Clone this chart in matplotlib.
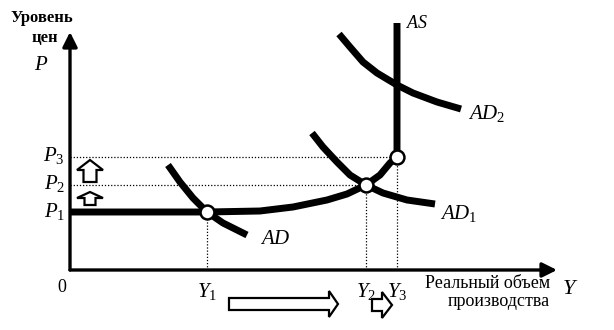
"""
Кейнсианский / классический отрезки кривой AS: сдвиги AD -> AD1 -> AD2.
Координаты в условных единицах: Y - реальный объем, P - уровень цен.
"""

import matplotlib
matplotlib.use("Agg")
import matplotlib.pyplot as plt
from matplotlib.patches import FancyArrow

plt.rcParams["font.family"] = ["Liberation Serif", "DejaVu Serif"]
plt.rcParams["mathtext.fontset"] = "custom"
plt.rcParams["mathtext.rm"] = "Liberation Serif"
plt.rcParams["mathtext.it"] = "Liberation Serif:italic"
plt.rcParams["mathtext.bf"] = "Liberation Serif:bold"

# --- data ---
# equilibrium levels
p_levels = [58, 85, 113]          # P1, P2, P3
y_levels = [137, 296, 327]        # Y1, Y2, Y3
p_labels = ["$P_1$", "$P_2$", "$P_3$"]
y_labels = ["$Y_1$", "$Y_2$", "$Y_3$"]

# aggregate supply: flat, rising, then vertical
as_y = [0, 137, 190, 223, 257, 277, 296, 310, 320, 327, 327]
as_p = [58, 58, 59, 63, 70, 76, 85, 95, 107, 113, 247]

# aggregate demand curves
ad_y = [98, 110, 123, 137, 153, 177]
ad_p = [105, 88, 72, 58, 47, 35]
ad1_y = [242, 253, 267, 280, 296, 313, 337, 365]
ad1_p = [137, 123, 108, 95, 85, 77, 70, 66]
ad2_y = [269, 280, 293, 307, 327, 343, 367, 391]
ad2_p = [236, 223, 208, 197, 185, 177, 168, 161]

curve_labels = ["$AD$", "$AD_1$", "$AD_2$", "$AS$"]

fig = plt.figure(figsize=(6.14, 3.30), dpi=100)
ax = fig.add_axes([0, 0, 1, 1])
ax.set_xlim(-70, 544)
ax.set_ylim(-60, 270)
ax.axis("off")

# axes with arrow heads
ax.annotate("", xy=(0, 238), xytext=(0, 0),
            arrowprops=dict(arrowstyle="-|>", lw=2.4, color="k", mutation_scale=22,
                            shrinkA=0, shrinkB=0))
ax.annotate("", xy=(487, 0), xytext=(0, 0),
            arrowprops=dict(arrowstyle="-|>", lw=2.4, color="k", mutation_scale=22,
                            shrinkA=0, shrinkB=0))

# dotted guide lines
for p, y in zip(p_levels[1:], y_levels[1:]):
    ax.plot([0, y], [p, p], color="k", lw=0.9, ls=(0, (1, 1.5)))
for p, y in zip(p_levels, y_levels):
    ax.plot([y, y], [0, p], color="k", lw=0.9, ls=(0, (1, 1.5)))

# curves
curve_kw = dict(color="k", lw=5, solid_capstyle="butt", solid_joinstyle="round")
ax.plot(as_y, as_p, **curve_kw)
ax.plot(ad_y, ad_p, **curve_kw)
ax.plot(ad1_y, ad1_p, **curve_kw)
ax.plot(ad2_y, ad2_p, **curve_kw)

# equilibrium points
ax.plot(y_levels, p_levels, "o", ms=10, mfc="white", mec="k", mew=1.8, zorder=5)

# axis labels
ax.text(-28, 252, "Уровень", ha="center", va="center", fontsize=12, fontweight="bold")
ax.text(-25, 232, "цен", ha="center", va="center", fontsize=12, fontweight="bold")
ax.text(-29, 204, "$\\mathbf{\\mathit{P}}$", ha="center", va="center", fontsize=15)
ax.text(-8, -17, "0", ha="center", va="center", fontsize=13)
ax.text(480, -13, "Реальный объем", ha="right", va="center", fontsize=13)
ax.text(480, -32, "производства", ha="right", va="center", fontsize=13)
ax.text(500, -19, "$Y$", ha="center", va="center", fontsize=16)

# level labels
for p, lab in zip(p_levels, p_labels):
    ax.text(-5, p + 1, lab, ha="right", va="center", fontsize=15)
for y, lab in zip(y_levels, y_labels):
    ax.text(y, -21, lab, ha="center", va="center", fontsize=15)

# curve labels
ax.text(ad_y[-1] + 13, ad_p[-1] - 4, curve_labels[0], ha="left", va="center", fontsize=15)
ax.text(ad1_y[-1] + 5, ad1_p[-1] - 10, curve_labels[1], ha="left", va="center", fontsize=15)
ax.text(ad2_y[-1] + 7, ad2_p[-1] - 4, curve_labels[2], ha="left", va="center", fontsize=15)
ax.text(as_y[-1] + 9, as_p[-1], curve_labels[3], ha="left", va="center", fontsize=13)

# hollow shift arrows
arrow_kw = dict(length_includes_head=True, fc="white", ec="k", lw=1.6)
ax.add_patch(FancyArrow(20, 88, 0, 22, width=13, head_width=26, head_length=10, **arrow_kw))
ax.add_patch(FancyArrow(20, 65, 0, 13, width=11, head_width=26, head_length=6, **arrow_kw))
ax.add_patch(FancyArrow(159, -34, 109, 0, width=12, head_width=26, head_length=9, **arrow_kw))
ax.add_patch(FancyArrow(302, -35, 20, 0, width=12, head_width=26, head_length=10, **arrow_kw))

fig.savefig("out.png", dpi=100)
plt.close(fig)
